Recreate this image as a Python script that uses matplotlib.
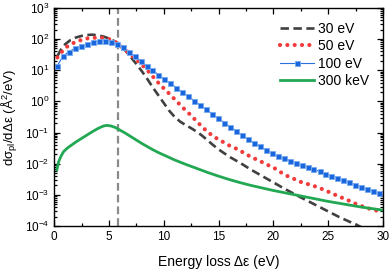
import matplotlib
matplotlib.use("Agg")
import matplotlib.pyplot as plt
import numpy as np

plt.rcParams["font.family"] = ["Liberation Sans", "DejaVu Sans"]
plt.rcParams["mathtext.fontset"] = "custom"
plt.rcParams["mathtext.rm"] = "Liberation Sans"
plt.rcParams["mathtext.it"] = "Liberation Sans:italic"

# 30 eV (dashed), values as log10 of dσ/dΔε
x_30 = [0.3, 0.6, 1.0, 1.5, 2.0, 2.5, 3.0, 3.5, 4.0, 4.5, 5.0, 5.5, 6.0, 6.5, 7.0,
        7.5, 8.0, 8.5, 9.0, 9.5, 10.0, 10.5, 11.0, 11.5, 12.0, 12.5, 13.0, 13.5,
        14.0, 14.5, 15.0, 16.0, 17.0, 18.0, 19.0, 20.0, 21.0, 22.0, 23.0, 24.0,
        25.0, 26.0, 27.0, 28.0]
y_30 = [1.45, 1.65, 1.83, 1.97, 2.05, 2.10, 2.13, 2.14, 2.12, 2.08, 2.02, 1.93,
        1.80, 1.63, 1.42, 1.20, 0.97, 0.72, 0.45, 0.20, -0.05, -0.30, -0.50,
        -0.65, -0.76, -0.86, -0.97, -1.10, -1.25, -1.40, -1.54, -1.78, -1.98,
        -2.20, -2.40, -2.60, -2.80, -2.99, -3.17, -3.35, -3.53, -3.71, -3.87,
        -4.03]

# 50 eV (dotted)
x_50 = [0.3, 0.7, 1.2, 2.0, 3.0, 4.0, 4.8, 5.5, 6.0, 6.6, 7.2, 7.8, 8.5, 9.2,
        9.7, 10.3, 10.8, 11.3, 11.8, 12.4, 12.9, 13.4, 14.0, 14.6, 15.3, 16.0,
        16.7, 17.3, 18.0, 18.7, 19.3, 20.0, 20.6, 21.25, 21.9, 22.6, 23.3, 24.0,
        24.7, 25.4, 26.1, 26.8, 27.4, 28.2, 28.9, 29.6, 30.0]
y_50 = [1.41, 1.59, 1.76, 1.92, 2.02, 2.05, 2.03, 1.93, 1.80, 1.62, 1.44, 1.25,
        1.00, 0.72, 0.52, 0.32, 0.14, -0.04, -0.22, -0.42, -0.60, -0.78, -0.98,
        -1.14, -1.28, -1.42, -1.53, -1.65, -1.79, -1.90, -2.01, -2.12, -2.26,
        -2.39, -2.49, -2.60, -2.67, -2.75, -2.85, -2.96, -3.07, -3.17, -3.27,
        -3.38, -3.46, -3.52, -3.56]

# 100 eV (line + squares)
x_100 = [0.27, 0.81, 1.36, 1.90, 2.45, 2.99, 3.53, 4.08, 4.62, 5.17, 5.71, 6.25,
         6.80, 7.34, 7.89, 8.43, 8.97, 9.52, 10.06, 10.61, 11.15, 11.69, 12.24,
         12.78, 13.33, 13.87, 14.41, 14.96, 15.50, 16.05, 16.59, 17.13, 17.68,
         18.22, 18.77, 19.31, 19.85, 20.40, 20.94, 21.49, 22.03, 22.57, 23.12,
         23.66, 24.21, 24.75, 25.29, 25.84, 26.38, 26.93, 27.47, 28.01, 28.56,
         29.10, 29.65]
y_100 = [1.13, 1.45, 1.60, 1.70, 1.77, 1.84, 1.89, 1.93, 1.95, 1.92, 1.85, 1.73,
         1.59, 1.45, 1.30, 1.15, 1.00, 0.86, 0.72, 0.58, 0.44, 0.30, 0.16, 0.02,
         -0.12, -0.26, -0.40, -0.54, -0.68, -0.81, -0.94, -1.07, -1.20, -1.32,
         -1.44, -1.55, -1.65, -1.74, -1.82, -1.90, -1.97, -2.04, -2.11, -2.18,
         -2.25, -2.32, -2.39, -2.46, -2.53, -2.60, -2.67, -2.74, -2.81, -2.88,
         -2.95]

# 300 keV (solid)
x_300k = [0.25, 0.4, 0.6, 0.85, 1.2, 1.6, 2.0, 2.5, 3.0, 3.5, 4.0, 4.5, 4.8, 5.2,
          5.6, 6.0, 6.5, 7.0, 7.5, 8.0, 8.5, 9.0, 9.5, 10.0, 11.0, 12.0, 13.0,
          14.0, 15.0, 16.0, 17.0, 18.0, 19.0, 20.0, 21.0, 22.0, 23.0, 24.0, 25.0,
          26.0, 27.0, 28.0, 29.0, 30.0]
y_300k = [-2.20, -1.95, -1.78, -1.62, -1.50, -1.40, -1.30, -1.19, -1.08, -0.97,
          -0.87, -0.79, -0.77, -0.79, -0.84, -0.92, -1.02, -1.13, -1.24, -1.35,
          -1.45, -1.55, -1.64, -1.72, -1.88, -2.02, -2.15, -2.28, -2.40, -2.51,
          -2.61, -2.70, -2.78, -2.86, -2.93, -3.00, -3.07, -3.14, -3.21, -3.27,
          -3.33, -3.39, -3.44, -3.49]

x_marker = 5.85

fig = plt.figure(figsize=(3.92, 2.72), dpi=100)
ax = fig.add_axes([0.138, 0.169, 0.839, 0.802])

ax.axvline(x_marker, color="#8a8a8a", lw=1.6, dashes=(3.5, 1.8), zorder=1)

ax.plot(x_30, 10 ** np.array(y_30), color="#404040", lw=1.9, dashes=(3.2, 1.7),
        label="30 eV")
ax.plot(x_50, 10 ** np.array(y_50), color="#f23b3b", lw=3.0,
        dashes=(0.01, 1.75), dash_capstyle="round", label="50 eV")
ax.plot(x_100, 10 ** np.array(y_100), color="#2a72e0", lw=0.8, marker="s",
        ms=3.6, mfc="#1a66dc", mec="#77aaf0", mew=0.6, label="100 eV")
ax.plot(x_300k, 10 ** np.array(y_300k), color="#22a853", lw=2.0,
        label="300 keV")

ax.set_yscale("log")
ax.set_xlim(0, 30)
ax.set_ylim(1e-4, 1e3)
ax.set_xticks([0, 5, 10, 15, 20, 25, 30])
ax.set_xticks(np.arange(2.5, 30, 5), minor=True)
ax.yaxis.set_major_locator(matplotlib.ticker.LogLocator(base=10, numticks=10))
ax.yaxis.set_minor_locator(matplotlib.ticker.LogLocator(base=10, subs=np.arange(2, 10), numticks=10))
ax.yaxis.set_minor_formatter(matplotlib.ticker.NullFormatter())

ax.tick_params(which="both", direction="in", top=True, right=True, labelsize=8.5,
               width=0.9, colors="black")
ax.tick_params(which="major", length=4)
ax.tick_params(which="minor", length=2.2)
for s in ax.spines.values():
    s.set_linewidth(1.0)

ax.set_xlabel("Energy loss Δε (eV)", fontsize=10, labelpad=9)
ax.set_ylabel("dσ$_{\\mathregular{pl}}$/dΔε (Å$^{\\mathregular{2}}$/eV)",
              fontsize=9.5)
ax.yaxis.set_label_coords(-0.105, 0.5)

ax.legend(loc="upper right", frameon=False, fontsize=10, handlelength=2.4,
          handletextpad=0.3, labelspacing=0.25, borderaxespad=0.6)

fig.savefig("out.png", dpi=100)
